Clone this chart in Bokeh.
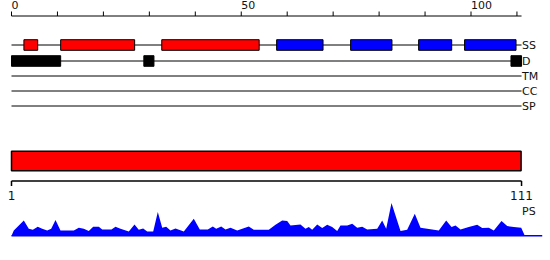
from bokeh.plotting import figure
from bokeh.models import Range1d, ColumnDataSource
from bokeh.core.properties import value
from bokeh.embed import file_html
from bokeh.resources import INLINE

# ---------------- data ----------------
seq_len = 111
ruler_ticks = [0, 10, 20, 30, 40, 50, 60, 70, 80, 90, 100, 110]
ruler_labels = ["0", "50", "100"]
ruler_label_pos = [0, 50, 100]

track_names = ["SS", "D", "TM", "CC", "SP"]

ss_start = [2.7, 10.7, 32.7, 57.7, 73.8, 88.6, 98.6]
ss_end = [5.7, 26.8, 53.9, 67.8, 82.8, 95.8, 109.8]
ss_type = ["H", "H", "H", "E", "E", "E", "E"]

d_start = [0.0, 28.8, 108.7]
d_end = [10.7, 31.0, 111.0]

domain_start = [0.0]
domain_end = [110.9]

axis_labels = ["1", "111"]
axis_label_pos = [0, 111]

prof_pos = [0, 0.5, 2.68, 3.76, 4.64, 5.72, 6.68, 7.77, 8.64, 9.58, 10.66, 13.56, 14.65,
            15.73, 16.82, 17.78, 19.0, 19.74, 21.76, 22.63, 23.72, 25.53, 26.77, 27.70,
            28.66, 29.53, 30.84, 31.84, 32.80, 33.67, 34.60, 35.69, 37.50, 39.67, 40.98,
            42.72, 43.81, 44.55, 45.64, 46.57, 47.66, 49.12, 51.64, 52.73, 55.99, 57.45,
            58.91, 60.0, 60.72, 62.89, 63.98, 64.70, 65.44, 66.53, 67.62, 68.70, 69.79,
            70.88, 71.60, 73.06, 74.15, 75.23, 76.32, 77.41, 79.59, 80.67, 81.54, 82.70,
            84.66, 86.11, 87.77, 89.01, 91.55, 92.99, 94.60, 95.76, 96.63, 97.72, 99.52,
            101.35, 102.44, 103.88, 104.96, 106.64, 107.88, 109.32, 110.93, 111.71]
prof_val = [0, 5.3, 15.3, 7, 6, 9, 7, 5.3, 7, 15.7, 5.3, 5.3, 8,
            7, 4.7, 9, 9, 6.3, 6.3, 9, 7, 4.3, 11.3, 6,
            7.3, 4.3, 4.3, 23.7, 8, 9, 5.3, 7.3, 4.3, 17, 6.3,
            6.3, 9.3, 7, 9.3, 6.3, 8, 5.3, 9.3, 6, 6, 11,
            15.3, 14.7, 10.3, 11.3, 7, 8.7, 6, 11.3, 7.7, 11, 8.7,
            4.7, 10.3, 10.3, 12, 8, 9, 6.3, 7, 15.3, 7, 32.7,
            4.7, 6, 22, 8, 6.3, 5.3, 15.3, 8.7, 10.3, 6.3, 8.7,
            11, 7.7, 8, 5.3, 14.7, 9.7, 8.7, 8, 0]
prof_line_end = 115.5

# ---------------- layout (pixel rows) ----------------
W, H = 550, 260
X0, PX = 11.0, 4.595  # left pixel of position 0, pixels per residue
ruler_y = 15.5
track_y = [44.5, 60.5, 75.5, 90.5, 105.5]
box_half = 5.3
bar_top, bar_bot = 150.7, 170.3
axis_y = 180.5
base_y = 235.3
FONT = value("DejaVu Sans")
TXT = "#111111"

p = figure(width=W, height=H, output_backend="svg", toolbar_location=None,
           x_range=Range1d(-X0 / PX, (W - X0) / PX), y_range=Range1d(H, 0),
           x_axis_type=None, y_axis_type=None, min_border=0)
p.outline_line_color = None
p.grid.visible = False
p.background_fill_color = "white"
p.border_fill_color = "white"

# top ruler
p.segment(x0=[0], y0=[ruler_y], x1=[seq_len], y1=[ruler_y], line_color="black", line_width=1)
p.segment(x0=ruler_ticks, y0=[ruler_y - 4.5] * len(ruler_ticks), x1=ruler_ticks,
          y1=[ruler_y] * len(ruler_ticks), line_color="black", line_width=1)
p.text(x=ruler_label_pos, y=[0.5] * 3, text=ruler_labels, text_font=FONT,
       text_font_size="11px", text_align="left", text_baseline="top", text_color=TXT)

# track lines and labels
for name, ty in zip(track_names, track_y):
    p.segment(x0=[0], y0=[ty], x1=[seq_len], y1=[ty], line_color="black", line_width=1)
p.text(x=[seq_len] * len(track_names), y=track_y, text=track_names, text_font=FONT,
       text_font_size="11px", text_align="left", text_baseline="middle", text_color=TXT,
       x_offset=0.5)

# SS boxes
colors = ["#FF0000" if t == "H" else "#0000FF" for t in ss_type]
p.quad(left=ss_start, right=ss_end, top=[track_y[0] - box_half] * len(ss_start),
       bottom=[track_y[0] + box_half] * len(ss_start), fill_color=colors,
       line_color="black", line_width=1)

# D boxes
p.quad(left=d_start, right=d_end, top=[track_y[1] - box_half] * len(d_start),
       bottom=[track_y[1] + box_half] * len(d_start), fill_color="black",
       line_color="black", line_width=1)

# domain bar
p.quad(left=domain_start, right=domain_end, top=[bar_top], bottom=[bar_bot],
       fill_color="#FF0000", line_color="black", line_width=1.5)

# bottom axis
p.segment(x0=[0], y0=[axis_y], x1=[seq_len], y1=[axis_y], line_color="black", line_width=1.5)
p.segment(x0=axis_label_pos, y0=[axis_y] * 2, x1=axis_label_pos, y1=[axis_y + 5] * 2,
          line_color="black", line_width=1.5)
p.text(x=axis_label_pos, y=[190] * 2, text=axis_labels, text_font=FONT,
       text_font_size="12px", text_align="center", text_baseline="top", text_color=TXT)
p.text(x=[seq_len], y=[204.5], text=["PS"], text_font=FONT, text_font_size="11px",
       text_align="left", text_baseline="top", text_color=TXT, x_offset=0.5)

# profile
src = ColumnDataSource(dict(x=prof_pos, y1=[base_y] * len(prof_pos),
                            y2=[base_y - v for v in prof_val]))
p.varea(x="x", y1="y1", y2="y2", source=src, fill_color="#0000FF")
p.segment(x0=[0], y0=[base_y], x1=[prof_line_end], y1=[base_y], line_color="#0000FF", line_width=1.5)

open("out.html", "w").write(file_html(p, INLINE))
